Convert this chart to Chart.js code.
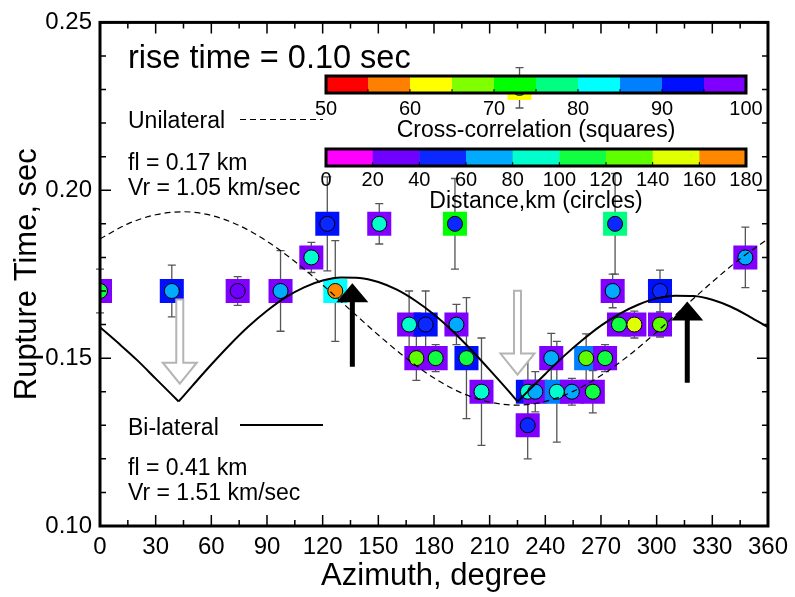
<!DOCTYPE html>
<html>
<head>
<meta charset="utf-8">
<script src="https://cdn.jsdelivr.net/npm/chart.js@4.4.0/dist/chart.umd.min.js"></script>
<style>
  html, body { margin: 0; padding: 0; background: #fff; }
  #wrap { width: 795px; height: 597px; }
</style>
</head>
<body>
<div id="wrap"><canvas id="rtChart" width="795" height="597"></canvas></div>
<script>
  // stations: azimuth (deg), rupture time (sec), error (sec), cross-correlation (%), distance (km)
  const azimuth = [0, 38.7, 74.2, 97.3, 113.9, 122.5, 126.8, 150.5, 166.6, 170.5, 175.5, 180.9, 191.3, 192.1, 197.5, 205.6, 226.1, 230.5, 230.6, 234.6, 243.2, 246.2, 254.3, 262.0, 265.6, 272.2, 276.3, 277.6, 279.7, 288.0, 301.8, 301.8, 347.8];
  const ruptureTime = [0.17, 0.17, 0.17, 0.17, 0.18, 0.19, 0.17, 0.19, 0.16, 0.15, 0.16, 0.15, 0.19, 0.16, 0.15, 0.14, 0.2305, 0.13, 0.14, 0.14, 0.15, 0.14, 0.14, 0.15, 0.14, 0.15, 0.17, 0.19, 0.16, 0.16, 0.16, 0.17, 0.18];
  const timeError = [0.0065, 0.0077, 0.0043, 0.012, 0.0045, 0.014, 0.015, 0.006, 0.010, 0.0066, 0.010, 0.004, 0.0135, 0.006, 0.018, 0.016, 0.006, 0.010, 0.010, 0.006, 0.0074, 0.015, 0.004, 0.0072, 0.0063, 0.004, 0.005, 0.015, 0.003, 0.004, 0.0037, 0.0062, 0.009];
  const crossCorr = [97, 92, 97, 97, 97, 92, 82, 97, 97, 97, 92, 97, 72, 97, 92, 97, 62, 97, 92, 97, 97, 87, 97, 87, 97, 97, 97, 77, 97, 97, 97, 92, 97];
  const distanceKm = [110, 70, 30, 70, 90, 50, 170, 90, 90, 130, 50, 110, 50, 70, 110, 90, 110, 50, 90, 70, 70, 90, 70, 130, 110, 110, 70, 50, 110, 150, 130, 50, 70];

  // unilateral model (dashed)
  const uniAz = [0, 15, 30, 45, 60, 75, 90, 105, 120, 135, 150, 165, 180, 195, 210, 225, 240, 255, 270, 285, 300, 315, 330, 345, 360];
  const uniTime = [0.1855, 0.1900, 0.1927, 0.1936, 0.1925, 0.1895, 0.1848, 0.1788, 0.1718, 0.1643, 0.1569, 0.1500, 0.1441, 0.1396, 0.1369, 0.1360, 0.1371, 0.1401, 0.1448, 0.1508, 0.1578, 0.1653, 0.1727, 0.1796, 0.1855];

  // bi-lateral model (solid), three arcs between the cusps
  const biAzA = [0, 10, 20, 30, 42.4];
  const biTimeA = [0.1592, 0.1544, 0.1494, 0.1439, 0.1371];
  const biAzB = [42.4, 50, 60, 70, 80, 90, 100, 110, 120, 130, 140, 150, 160, 170, 180, 190, 200, 210, 220, 225];
  const biTimeB = [0.1371, 0.1419, 0.1481, 0.1540, 0.1594, 0.1641, 0.1681, 0.1711, 0.1731, 0.1740, 0.1739, 0.1727, 0.1704, 0.1671, 0.1630, 0.1581, 0.1525, 0.1465, 0.1403, 0.1371];
  const biAzC = [225, 230, 240, 250, 260, 270, 280, 290, 300, 310, 320, 330, 340, 350, 360];
  const biTimeC = [0.1370, 0.1398, 0.1453, 0.1506, 0.1554, 0.1597, 0.1632, 0.1659, 0.1678, 0.1686, 0.1685, 0.1674, 0.1653, 0.1624, 0.1592];

  // direction arrows
  const grayArrowAz = [43, 225];
  const grayArrowTop = [0.1675, 0.1701];
  const grayArrowTip = [0.1424, 0.1451];
  const blackArrowAz = [136, 316.5];
  const blackArrowBase = [0.1474, 0.1427];
  const blackArrowTip = [0.1723, 0.1669];

  // colour bars
  const ccTicks = [50, 60, 70, 80, 90, 100];
  const ccColors = ["#ff0000", "#ff8000", "#ffff00", "#80ff00", "#00ff00", "#00ff80", "#00ffff", "#0080ff", "#0010ff", "#7f00ff"];
  const distTicks = [0, 20, 40, 60, 80, 100, 120, 140, 160, 180];
  const distColors = ["#ff00ff", "#7000ff", "#0a28ff", "#00aaff", "#00ffcc", "#10ff40", "#60ff00", "#e0ff00", "#ff8800"];

  const FONT = '"Liberation Sans", Arial, sans-serif';
  Chart.defaults.font.family = FONT;
  Chart.defaults.color = "#000";

  function ccColor(v) {
    const k = Math.min(ccColors.length - 1, Math.max(0, Math.floor((v - 50) / 5)));
    return ccColors[k];
  }
  function distColor(v) {
    const k = Math.min(distColors.length - 1, Math.max(0, Math.floor(v / 20)));
    return distColors[k];
  }
  const pts = (xs, ys) => xs.map((x, i) => ({ x: x, y: ys[i] }));

  const errorBars = {
    id: "errorBars",
    beforeDatasetsDraw(chart) {
      const { ctx, scales: { x, y } } = chart;
      ctx.save();
      ctx.strokeStyle = "#555";
      ctx.lineWidth = 1.3;
      azimuth.forEach((a, i) => {
        const px = x.getPixelForValue(a);
        const y1 = y.getPixelForValue(ruptureTime[i] + timeError[i]);
        const y2 = y.getPixelForValue(ruptureTime[i] - timeError[i]);
        ctx.beginPath();
        ctx.moveTo(px, y1); ctx.lineTo(px, y2);
        ctx.moveTo(px - 4, y1); ctx.lineTo(px + 4, y1);
        ctx.moveTo(px - 4, y2); ctx.lineTo(px + 4, y2);
        ctx.stroke();
      });
      ctx.restore();
    },
  };

  function colorBar(ctx, left, top, width, height, colors, ticks, title, tickY, titleY) {
    const seg = width / colors.length;
    colors.forEach((c, i) => {
      ctx.fillStyle = c;
      ctx.fillRect(left + i * seg, top, seg + 0.5, height);
    });
    ctx.strokeStyle = "#000";
    ctx.lineWidth = 1;
    for (let i = 1; i < colors.length; i++) {
      ctx.beginPath();
      ctx.moveTo(left + i * seg, top + height);
      ctx.lineTo(left + i * seg, top + height - 4);
      ctx.stroke();
    }
    ctx.lineWidth = 3;
    ctx.strokeRect(left, top, width, height);
    ctx.fillStyle = "#000";
    ctx.textAlign = "center";
    ctx.textBaseline = "alphabetic";
    ctx.font = "20px " + FONT;
    const step = width / (ticks.length - 1);
    ticks.forEach((t, i) => ctx.fillText(String(t), left + i * step, tickY));
    ctx.font = "23px " + FONT;
    ctx.fillText(title, left + width / 2, titleY);
  }

  const overlays = {
    id: "overlays",
    afterDatasetsDraw(chart) {
      const { ctx, scales: { x, y } } = chart;
      ctx.save();
      colorBar(ctx, 326, 76, 420, 17, ccColors, ccTicks, "Cross-correlation (squares)", 115, 137);
      colorBar(ctx, 326, 149, 420, 17, distColors, distTicks, "Distance,km (circles)", 186, 208);

      // hollow gray arrows pointing down
      grayArrowAz.forEach((a, i) => {
        const px = x.getPixelForValue(a);
        const top = y.getPixelForValue(grayArrowTop[i]);
        const tip = y.getPixelForValue(grayArrowTip[i]);
        const hb = tip - 21;
        ctx.beginPath();
        ctx.moveTo(px - 3.5, top); ctx.lineTo(px + 3.5, top); ctx.lineTo(px + 3.5, hb);
        ctx.lineTo(px + 17, hb); ctx.lineTo(px, tip); ctx.lineTo(px - 17, hb);
        ctx.lineTo(px - 3.5, hb); ctx.closePath();
        ctx.fillStyle = "#fff"; ctx.fill();
        ctx.strokeStyle = "#b4b4b4"; ctx.lineWidth = 2; ctx.stroke();
      });
      // solid black arrows pointing up
      blackArrowAz.forEach((a, i) => {
        const px = x.getPixelForValue(a);
        const base = y.getPixelForValue(blackArrowBase[i]);
        const tip = y.getPixelForValue(blackArrowTip[i]);
        const hb = tip + 19;
        ctx.beginPath();
        ctx.moveTo(px - 2.5, base); ctx.lineTo(px + 2.5, base); ctx.lineTo(px + 2.5, hb);
        ctx.lineTo(px + 16, hb); ctx.lineTo(px, tip); ctx.lineTo(px - 16, hb);
        ctx.lineTo(px - 2.5, hb); ctx.closePath();
        ctx.fillStyle = "#000"; ctx.fill();
      });
      ctx.restore();
    },
    afterDraw(chart) {
      const { ctx, chartArea: a, scales: { x, y } } = chart;
      ctx.save();
      // labels inside the plot
      ctx.fillStyle = "#000";
      ctx.textAlign = "left";
      ctx.textBaseline = "alphabetic";
      ctx.font = "32.5px " + FONT;
      ctx.fillText("rise time = 0.10 sec", 128, 68);
      ctx.font = "23px " + FONT;
      ctx.fillText("Unilateral", 128, 128);
      ctx.fillText("fl = 0.17 km", 128, 170);
      ctx.fillText("Vr = 1.05 km/sec", 128, 195);
      ctx.fillText("Bi-lateral", 128, 435);
      ctx.fillText("fl = 0.41 km", 128, 475);
      ctx.fillText("Vr = 1.51 km/sec", 128, 500);
      ctx.strokeStyle = "#000";
      ctx.lineWidth = 1.2;
      ctx.setLineDash([6, 4]);
      ctx.beginPath(); ctx.moveTo(240, 119.5); ctx.lineTo(323, 119.5); ctx.stroke();
      ctx.setLineDash([]);
      ctx.lineWidth = 2;
      ctx.beginPath(); ctx.moveTo(240, 425); ctx.lineTo(323, 425); ctx.stroke();

      // ticks pointing inwards on all four sides
      ctx.lineWidth = 1.5;
      ctx.beginPath();
      for (let v = 0; v <= 360; v += 15) {
        const px = x.getPixelForValue(v);
        const len = v % 30 === 0 ? 11 : 6;
        ctx.moveTo(px, a.bottom); ctx.lineTo(px, a.bottom - len);
        ctx.moveTo(px, a.top); ctx.lineTo(px, a.top + len);
      }
      for (let k = 0; k <= 15; k++) {
        const py = y.getPixelForValue(0.10 + k * 0.01);
        const len = k % 5 === 0 ? 11 : 6;
        ctx.moveTo(a.left, py); ctx.lineTo(a.left + len, py);
        ctx.moveTo(a.right, py); ctx.lineTo(a.right - len, py);
      }
      ctx.stroke();
      ctx.lineWidth = 3;
      ctx.strokeRect(a.left, a.top, a.right - a.left, a.bottom - a.top);
      ctx.restore();
    },
  };

  new Chart(document.getElementById("rtChart"), {
    type: "scatter",
    data: {
      datasets: [
        {
          label: "Unilateral",
          data: pts(uniAz, uniTime),
          showLine: true,
          borderColor: "#000",
          borderWidth: 1.2,
          borderDash: [6, 4],
          pointRadius: 0,
          cubicInterpolationMode: "monotone",
          order: 0,
        },
        {
          label: "Bi-lateral A",
          data: pts(biAzA, biTimeA),
          showLine: true, borderColor: "#000", borderWidth: 2, pointRadius: 0,
          cubicInterpolationMode: "monotone", order: 0,
        },
        {
          label: "Bi-lateral B",
          data: pts(biAzB, biTimeB),
          showLine: true, borderColor: "#000", borderWidth: 2, pointRadius: 0,
          cubicInterpolationMode: "monotone", order: 0,
        },
        {
          label: "Bi-lateral C",
          data: pts(biAzC, biTimeC),
          showLine: true, borderColor: "#000", borderWidth: 2, pointRadius: 0,
          cubicInterpolationMode: "monotone", order: 0,
        },
        {
          label: "Distance",
          data: pts(azimuth, ruptureTime),
          pointStyle: "circle",
          pointRadius: 7.5,
          pointBackgroundColor: distanceKm.map(distColor),
          pointBorderColor: "#000",
          pointBorderWidth: 1,
          order: 1,
        },
        {
          label: "Cross-correlation",
          data: pts(azimuth, ruptureTime),
          pointStyle: "rect",
          pointRadius: 17,
          pointBackgroundColor: crossCorr.map(ccColor),
          pointBorderWidth: 0,
          order: 2,
        },
      ],
    },
    options: {
      responsive: false,
      animation: false,
      events: [],
      layout: { padding: { top: 18, right: 25, left: 0, bottom: 0 } },
      plugins: {
        legend: { display: false },
        tooltip: { enabled: false },
      },
      scales: {
        x: {
          type: "linear",
          min: 0,
          max: 360,
          afterFit(scale) { scale.height = 71; },
          grid: { display: false, drawTicks: false },
          border: { display: false },
          ticks: { stepSize: 30, padding: 7, font: { size: 24 }, color: "#000", maxRotation: 0 },
          title: { display: true, text: "Azimuth, degree", font: { size: 31 }, color: "#000", padding: { top: 0, bottom: 2 } },
        },
        y: {
          min: 0.10,
          max: 0.25,
          afterFit(scale) { scale.width = 100; },
          grid: { display: false, drawTicks: false },
          border: { display: false },
          ticks: {
            stepSize: 0.05,
            padding: 8,
            font: { size: 24 },
            color: "#000",
            callback: function (value) { return value.toFixed(2); },
          },
          title: { display: true, text: "Rupture Time, sec", font: { size: 31 }, color: "#000", padding: { top: 9, bottom: 0 } },
        },
      },
    },
    plugins: [errorBars, overlays],
  });
</script>
</body>
</html>
